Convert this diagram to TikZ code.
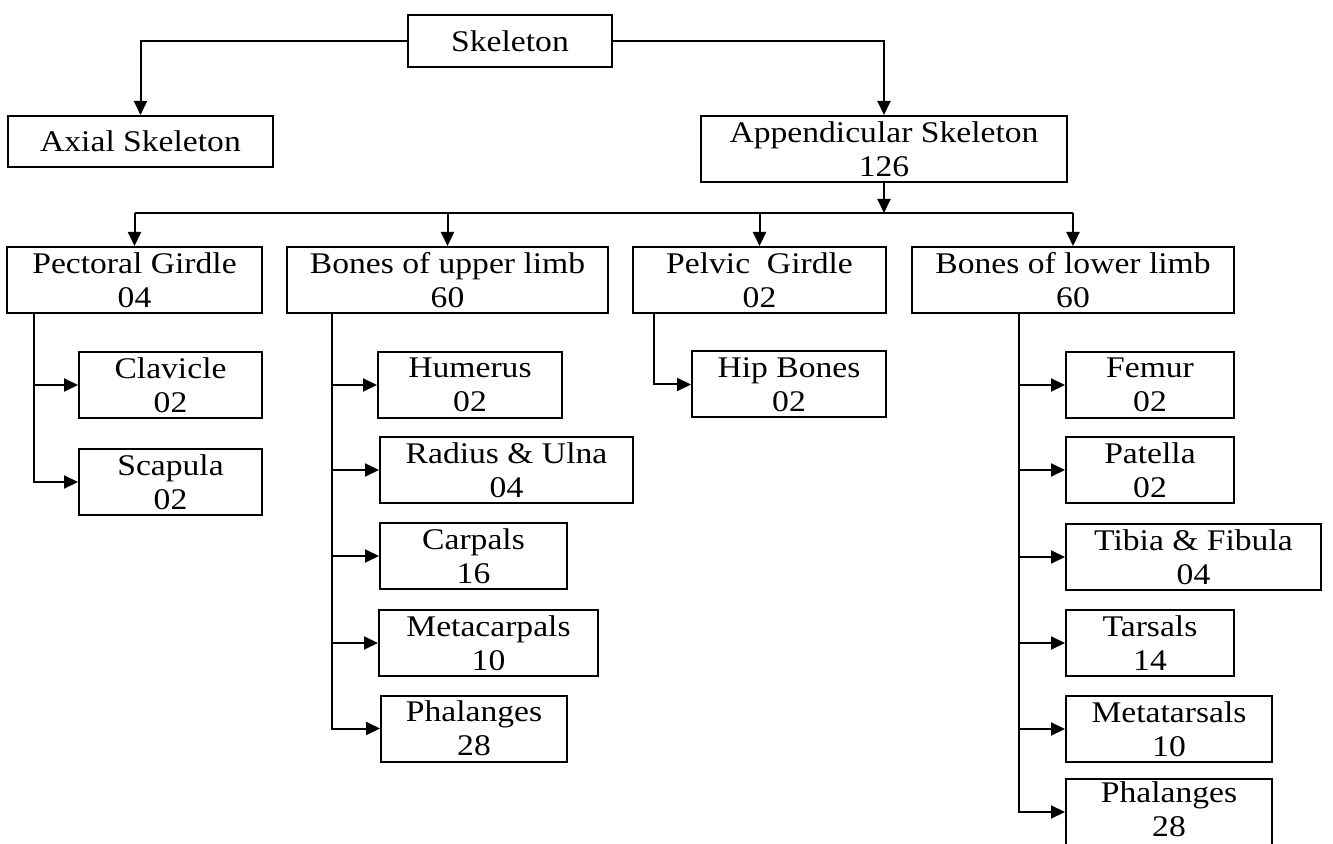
\documentclass[tikz,border=0pt]{standalone}
\usepackage{fontspec}
\setmainfont{Liberation Serif}[FakeStretch=1.12]
\usetikzlibrary{arrows.meta, positioning, calc}
\tikzset{
    box/.style={
        rectangle, draw=black, line width=1pt,
        minimum height=33pt, inner sep=1pt, text depth=0pt,
        font=\fontsize{15}{17}\selectfont, align=center
    },
    arrow/.style={-{Triangle[length=7pt,width=6.5pt]}, line width=1pt, draw=black},
    link/.style={line width=1pt, draw=black}
}

\begin{document}
\begin{tikzpicture}[x=0.5pt, y=-0.5pt]
    \useasboundingbox (0,0) rectangle (1333,844);

    % top levels
    \node[box, minimum width=102pt, minimum height=26pt] (skel) at (510,41) {Skeleton};
    \node[box, minimum width=132.5pt, minimum height=25.5pt] (axial) at (140.5,141.5) {Axial Skeleton};
    \node[box, minimum width=183pt] (appen) at (884,149) {Appendicular Skeleton\\126};

    \node[box, minimum width=127.5pt] (pect) at (134.5,280) {Pectoral Girdle\\04};
    \node[box, minimum width=160.5pt] (upper) at (447.5,280) {Bones of upper limb\\60};
    \node[box, minimum width=126.5pt] (pelvic) at (759.5,280) {Pelvic\ \ Girdle\\02};
    \node[box, minimum width=161pt] (lower) at (1073,280) {Bones of lower limb\\60};

    % pectoral girdle
    \node[box, minimum width=91.5pt] (clav) at (170.5,385) {Clavicle\\02};
    \node[box, minimum width=91.5pt] (scap) at (170.5,482) {Scapula\\02};

    % upper limb
    \node[box, minimum width=92pt] (hum) at (470,385) {Humerus\\02};
    \node[box, minimum width=126.5pt] (rad) at (506.5,470) {Radius \& Ulna\\04};
    \node[box, minimum width=93.5pt] (carp) at (473.5,556) {Carpals\\16};
    \node[box, minimum width=109.5pt] (metac) at (488.5,643) {Metacarpals\\10};
    \node[box, minimum width=93pt] (phalup) at (474,728.5) {Phalanges\\28};

    % pelvic girdle
    \node[box, minimum width=97pt] (hip) at (789,384.5) {Hip Bones\\02};

    % lower limb
    \node[box, minimum width=84pt] (fem) at (1150,385) {Femur\\02};
    \node[box, minimum width=84pt] (pat) at (1150,470) {Patella\\02};
    \node[box, minimum width=127.5pt] (tib) at (1193.5,557) {Tibia \& Fibula\\04};
    \node[box, minimum width=84pt] (tars) at (1150,643) {Tarsals\\14};
    \node[box, minimum width=103pt] (metat) at (1169,729) {Metatarsals\\10};
    \node[box, minimum width=103pt, text depth=3pt] (phallow) at (1169,812) {Phalanges\\28};

    % connectors
    \coordinate (bus) at (884,213);
    \draw[arrow] (skel.west) -| (axial.north);
    \draw[arrow] (skel.east) -| (appen.north);
    \draw[arrow] (appen.south) -- (bus);
    \draw[link] (pect.north |- bus) -- (lower.north |- bus);
    \draw[arrow] (pect.north |- bus) -- (pect.north);
    \draw[arrow] (upper.north |- bus) -- (upper.north);
    \draw[arrow] (pelvic.north |- bus) -- (pelvic.north);
    \draw[arrow] (lower.north |- bus) -- (lower.north);

    \coordinate (pectstem) at (34,313);
    \draw[arrow] (pectstem) |- (clav.west);
    \draw[arrow] (pectstem) |- (scap.west);

    \coordinate (upperstem) at (332,313);
    \draw[arrow] (upperstem) |- (hum.west);
    \draw[arrow] (upperstem) |- (rad.west);
    \draw[arrow] (upperstem) |- (carp.west);
    \draw[arrow] (upperstem) |- (metac.west);
    \draw[arrow] (upperstem) |- (phalup.west);

    \coordinate (pelvicstem) at (654,313);
    \draw[arrow] (pelvicstem) |- (hip.west);

    \coordinate (lowerstem) at (1019,313);
    \draw[arrow] (lowerstem) |- (fem.west);
    \draw[arrow] (lowerstem) |- (pat.west);
    \draw[arrow] (lowerstem) |- (tib.west);
    \draw[arrow] (lowerstem) |- (tars.west);
    \draw[arrow] (lowerstem) |- (metat.west);
    \draw[arrow] (lowerstem) |- (phallow.west);
\end{tikzpicture}
\end{document}
